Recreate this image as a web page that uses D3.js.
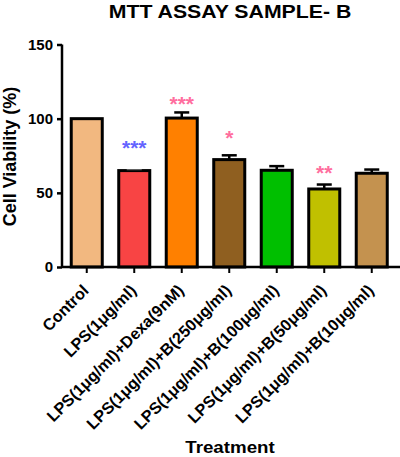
<!DOCTYPE html>
<html>
<head>
<meta charset="utf-8">
<script src="https://cdn.jsdelivr.net/npm/d3@7"></script>
<style>
  body { margin: 0; background: #fff; }
  text { font-family: "Liberation Sans", Arial, sans-serif; font-weight: bold; }
</style>
</head>
<body>
<div id="chart"></div>
<script>
// data
const categories = [
    "Control",
    "LPS(1μg/ml)",
    "LPS(1μg/ml)+Dexa(9nM)",
    "LPS(1μg/ml)+B(250μg/ml)",
    "LPS(1μg/ml)+B(100μg/ml)",
    "LPS(1μg/ml)+B(50μg/ml)",
    "LPS(1μg/ml)+B(10μg/ml)"
];
const means = [100, 65, 100.4, 72.4, 65.2, 52.6, 63.2];
const errors = [0, 0.6, 3.8, 2.9, 2.8, 3.0, 2.5];
const barColors = ["#F2B880", "#F84444", "#FF8000", "#8F5F20", "#00BF00", "#C0C000", "#C4924F"];
const yTicks = [0, 50, 100, 150];
// significance marks: label and the level (data units) they sit at
const sigLabels = ["", "***", "***", "*", "", "**", ""];
const sigLevels = [null, 83.5, 113, 90.3, null, 66.6, null];
const sigColors = [null, "#6464FF", "#FF6E9E", "#FF6E9E", null, "#FF6E9E", null];

const width = 400, height = 457;
const stretch = 1.15; // title text in the original is drawn a bit wide

const svg = d3.select("#chart")
    .append("svg")
    .attr("width", width)
    .attr("height", height);

// scales
const x = d3.scaleBand()
    .domain(categories)
    .range([63, 395.5])
    .paddingInner(0.347)
    .paddingOuter(0.1735);

const y = d3.scaleLinear()
    .domain([0, 150])
    .range([267, 44.5]);

// title
svg.append("text")
    .attr("transform", `translate(230,17.5) scale(${stretch},1)`)
    .attr("text-anchor", "middle")
    .attr("font-size", 18.5)
    .text("MTT ASSAY SAMPLE- B");

// bars
const rows = categories.map((c, i) => ({ cat: c, mean: means[i], err: errors[i], color: barColors[i] }));

svg.append("g")
    .selectAll("rect")
    .data(rows)
    .enter().append("rect")
    .attr("x", d => x(d.cat))
    .attr("y", d => y(d.mean))
    .attr("width", x.bandwidth())
    .attr("height", d => y(0) - y(d.mean))
    .attr("fill", d => d.color)
    .attr("stroke", "#000")
    .attr("stroke-width", 3);

// error bars (upper only)
const errG = svg.append("g").attr("stroke", "#000").attr("stroke-width", 2.5);
rows.filter(d => d.err > 0).forEach(d => {
    const cx = x(d.cat) + x.bandwidth() / 2;
    errG.append("line")
        .attr("x1", cx).attr("x2", cx)
        .attr("y1", y(d.mean)).attr("y2", y(d.mean + d.err));
    errG.append("line")
        .attr("x1", cx - 7.5).attr("x2", cx + 7.5)
        .attr("y1", y(d.mean + d.err)).attr("y2", y(d.mean + d.err))
        .attr("stroke-width", d.err < 1 ? 1 : 2.5)
        .attr("stroke", d.err < 1 ? "#777" : "#000");
});

// significance stars
categories.forEach((c, i) => {
    if (!sigLabels[i]) return;
    svg.append("text")
        .attr("x", x(c) + x.bandwidth() / 2)
        .attr("y", y(sigLevels[i]) + 11.5)
        .attr("text-anchor", "middle")
        .attr("font-size", 21)
        .attr("fill", sigColors[i])
        .text(sigLabels[i]);
});

// y axis
const yAxis = svg.append("g")
    .attr("transform", "translate(62,0)")
    .call(d3.axisLeft(y).tickValues(yTicks).tickSize(5).tickPadding(4));
yAxis.select(".domain").attr("stroke-width", 2.5).attr("d", `M0,${y(150)}V${y(0)}`);
yAxis.selectAll(".tick line").attr("stroke-width", 2.5);
yAxis.selectAll(".tick text")
    .attr("font-size", 15)
    .attr("font-family", "'Liberation Sans', Arial, sans-serif")
    .attr("font-weight", "bold")
    .attr("fill", "#000");

// x axis
const xAxis = svg.append("g")
    .attr("transform", `translate(0,${y(0)})`)
    .call(d3.axisBottom(x).tickSize(6).tickSizeOuter(0));
xAxis.select(".domain").attr("stroke-width", 2.5).attr("d", `M62,0H400`);
xAxis.selectAll(".tick line").attr("stroke-width", 2);
xAxis.selectAll(".tick text")
    .attr("font-size", 16.2)
    .attr("font-family", "'Liberation Sans', Arial, sans-serif")
    .attr("font-weight", "bold")
    .attr("fill", "#000")
    .attr("text-anchor", "end")
    .attr("dy", null)
    .attr("y", 0)
    .attr("transform", "translate(3,24.5) rotate(-45)");

// axis titles
svg.append("text")
    .attr("transform", "translate(15.5,156.5) rotate(-90)")
    .attr("text-anchor", "middle")
    .attr("font-size", 18)
    .text("Cell Viability (%)");

svg.append("text")
    .attr("transform", `translate(230,453) scale(${stretch},1)`)
    .attr("text-anchor", "middle")
    .attr("font-size", 16.3)
    .text("Treatment");
</script>
</body>
</html>
